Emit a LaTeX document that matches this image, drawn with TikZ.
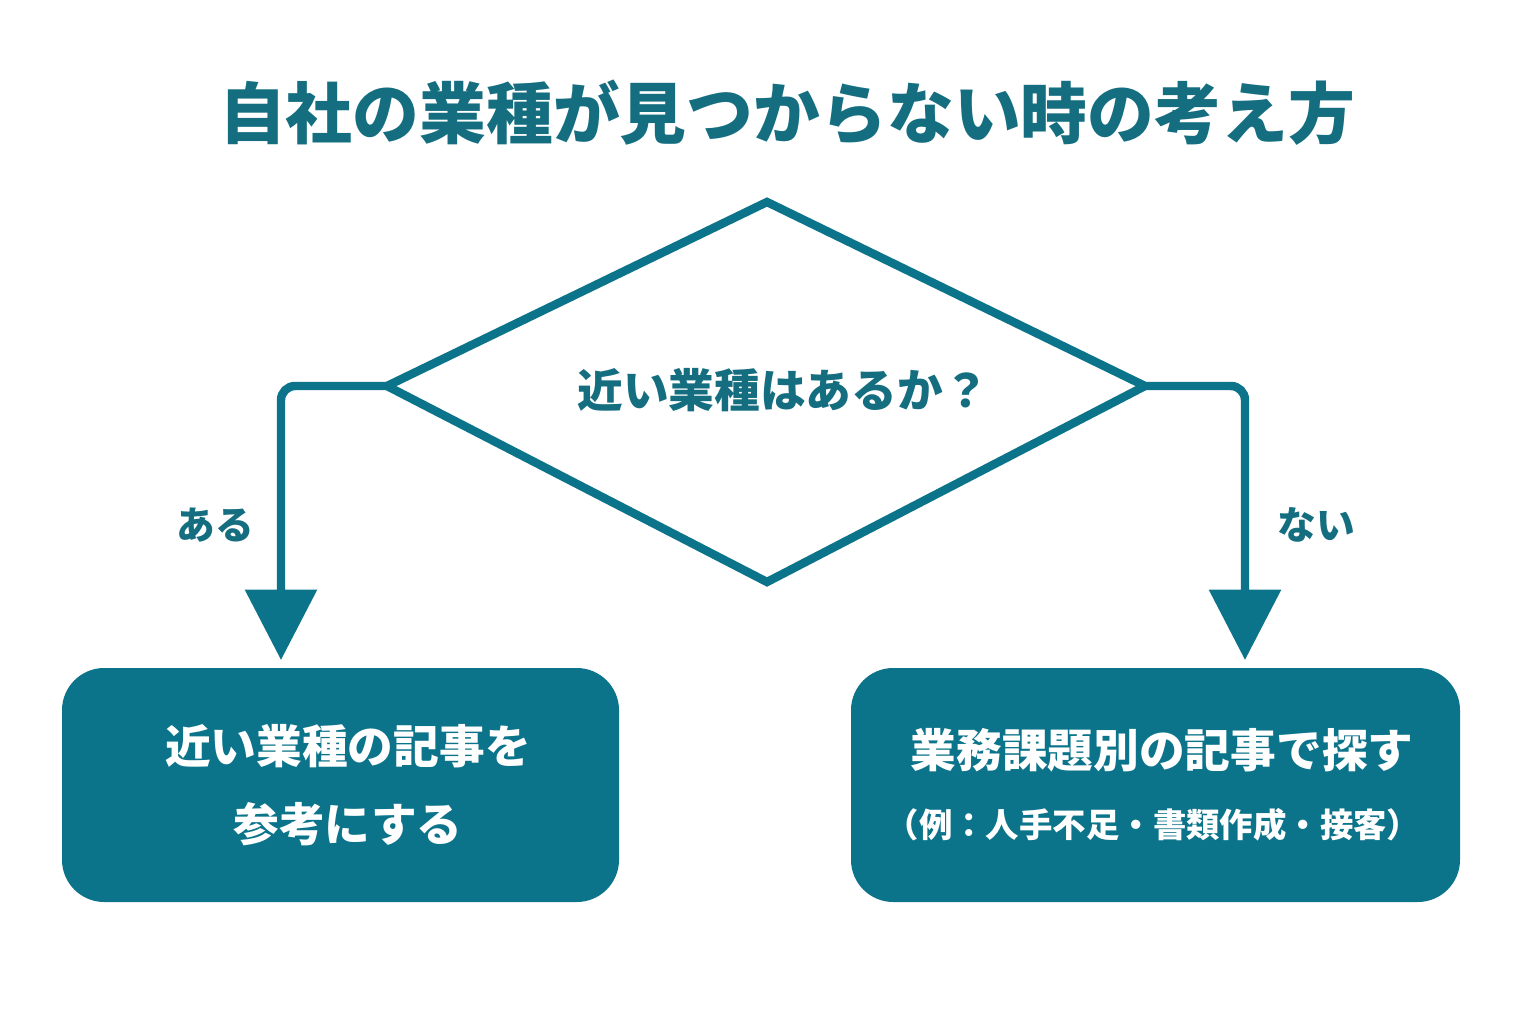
\documentclass[tikz,border=0pt]{standalone}
\usepackage{fontspec}
\newfontfamily\cjk{Noto Sans CJK JP}
\usetikzlibrary{arrows.meta}
\definecolor{teal1}{RGB}{12,116,138}
\definecolor{teal2}{RGB}{20,110,128}
\tikzset{
  box/.style={fill=teal1, rounded corners=12pt, text=white},
  flow/.style={teal1, line width=2.4pt, rounded corners=4pt, -{Triangle[length=20pt,width=20pt]}},
  lbl/.style={text=teal2, font=\cjk\bfseries\fontsize{11}{13}\selectfont}
}
\begin{document}
\begin{tikzpicture}[x=0.01cm, y=-0.01cm]
        \useasboundingbox (0,0) rectangle (1536,1024);
        \node[text=teal2, font=\cjk\bfseries\fontsize{19}{22}\selectfont] (title) at (787,113) {自社の業種が見つからない時の考え方};

        \coordinate (top) at (767,202);
        \coordinate (lft) at (387,386);
        \coordinate (rgt) at (1145,386);
        \coordinate (bot) at (767,582);
        \draw[teal1, line width=2.4pt, line join=miter] (top) -- (rgt) -- (bot) -- (lft) -- cycle;
        \node[lbl, font=\cjk\bfseries\fontsize{13}{15}\selectfont] (ask) at (783,390) {近い業種はあるか？};

        \fill[box] (62,668) rectangle (619,902);
        \node[text=white, align=center, font=\cjk\bfseries\fontsize{13}{22}\selectfont] (yesbox) at (348,785) {近い業種の記事を\\参考にする};
        \fill[box] (851,668) rectangle (1460,902);
        \node[text=white, font=\cjk\bfseries\fontsize{13}{15}\selectfont] (nobox) at (1162,750) {業務課題別の記事で探す};
        \node[text=white, font=\cjk\bfseries\fontsize{9.5}{11}\selectfont] (nonote) at (1153,825) {（例：人手不足・書類作成・接客）};

        \coordinate (yesend) at (281,660);
        \coordinate (noend) at (1245,660);
        \draw[flow] (lft) -- (281,386) -- (yesend);
        \draw[flow] (rgt) -- (1245,386) -- (noend);
        \node[lbl] (yes) at (215,525) {ある};
        \node[lbl] (no) at (1316,525) {ない};
\end{tikzpicture}
\end{document}
